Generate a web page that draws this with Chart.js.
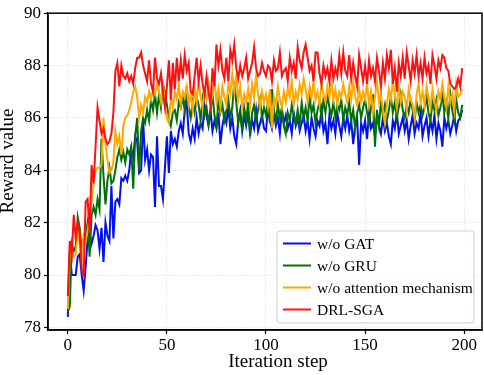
<!DOCTYPE html>
<html>
<head>
<meta charset="utf-8">
<script src="https://cdn.jsdelivr.net/npm/chart.js@4.4.1/dist/chart.umd.min.js"></script>
<style>
  html, body { margin: 0; padding: 0; background: #fff; }
  #wrap { width: 484px; height: 375px; position: relative; }
</style>
</head>
<body>
<div id="wrap"><canvas id="rewardChart"></canvas></div>
<script>
// Iteration steps 0..199
const steps = Array.from({ length: 200 }, (_, i) => i);

const xTicks = [0, 50, 100, 150, 200];
const yTicks = [78, 80, 82, 84, 86, 88, 90];

const seriesNames = ["w/o GAT", "w/o GRU", "w/o attention mechanism", "DRL-SGA"];
const seriesColors = ["#0010f0", "#00700a", "#ffa800", "#ff1010"];

// Valeurs (approximatives)
const woGAT = [
  78.4, 80.9, 80.0, 80.0, 80.0, 80.7, 80.8, 80.0, 79.4, 80.3,
  81.4, 81.6, 81.2, 81.5, 81.9, 81.7, 81.0, 81.8, 80.5, 82.0,
  81.5, 81.3, 83.4, 81.4, 82.8, 82.9, 82.7, 83.7, 83.6, 83.8,
  83.6, 84.0, 84.8, 84.5, 85.3, 85.1, 83.9, 84.0, 85.9, 84.4,
  84.8, 84.0, 84.6, 84.5, 82.6, 85.3, 83.4, 83.4, 82.9, 84.1,
  85.3, 83.9, 85.5, 85.0, 85.2, 84.9, 85.5, 85.8, 85.4, 86.3,
  86.6, 85.4, 85.1, 85.6, 85.2, 86.0, 85.4, 85.8, 85.6, 86.5,
  86.1, 85.7, 86.3, 85.5, 85.9, 85.6, 86.2, 85.0, 85.7, 86.1,
  85.8, 86.4, 85.6, 86.0, 85.3, 85.0, 85.9, 86.3, 85.5, 86.1,
  85.7, 86.2, 85.4, 85.9, 85.6, 86.3, 85.5, 85.8, 86.1, 85.6,
  85.5, 86.4, 85.9, 85.6, 86.2, 85.7, 86.0, 85.4, 86.3, 85.8,
  86.1, 85.6, 85.9, 85.4, 86.2, 85.7, 86.0, 85.5, 85.8, 86.1,
  85.5, 85.9, 85.2, 86.0, 85.6, 85.3, 85.9, 85.7, 86.3, 85.5,
  85.8, 85.0, 86.1, 85.6, 85.9, 85.4, 86.2, 85.7, 85.3, 86.0,
  85.6, 86.1, 85.5, 85.9, 85.0, 85.7, 86.0, 84.2, 85.8, 85.5,
  85.9, 85.2, 86.2, 85.6, 85.8, 85.3, 86.1, 85.7, 85.4, 86.0,
  85.5, 85.8, 85.3, 85.0, 85.9, 85.6, 86.2, 85.4, 85.7, 86.0,
  85.5, 85.9, 85.2, 85.7, 86.1, 85.4, 85.8, 85.6, 86.2, 85.3,
  85.7, 86.0, 85.3, 85.9, 85.5, 86.1, 85.2, 85.8, 85.5, 84.9,
  86.0, 85.6, 85.9, 85.4, 85.7, 86.1, 85.5, 85.9, 86.0, 86.3
];

const woGRU = [
  78.6, 78.8, 81.2, 80.9, 81.1, 82.2, 81.8, 80.9, 81.4, 81.5,
  82.0, 80.7, 82.3, 82.6, 82.3, 82.9, 82.5, 85.2, 83.8, 82.7,
  83.6, 84.1, 83.5, 83.6, 84.0, 84.5, 84.8, 84.4, 84.7, 84.3,
  84.8, 84.6, 84.9, 83.3, 85.3, 86.0, 84.0, 85.5, 86.0, 85.8,
  86.3, 85.9, 86.7, 86.3, 86.9, 86.2, 86.9, 86.4, 87.3, 87.0,
  86.5, 86.0, 85.7, 86.2, 86.3, 85.9, 86.6, 86.4, 86.8, 86.3,
  87.2, 86.4, 86.0, 86.6, 86.2, 86.8, 86.5, 85.9, 86.7, 86.1,
  86.4, 85.8, 86.3, 86.9, 86.1, 85.7, 86.6, 86.2, 86.5, 85.9,
  86.3, 86.7, 86.0, 86.4, 87.4, 86.6, 85.8, 86.2, 85.5, 86.4,
  85.9, 86.6, 85.3, 86.2, 86.5, 85.9, 86.3, 86.7, 86.0, 86.4,
  86.1, 86.6, 85.8, 87.1, 86.3, 85.9, 86.5, 86.0, 86.4, 85.7,
  85.4, 86.2, 85.9, 86.5, 86.1, 85.8, 86.3, 85.7, 86.6, 86.0,
  86.4, 85.9, 86.8, 86.2, 86.5, 85.8, 86.3, 86.6, 86.0, 86.7,
  86.2, 86.9, 86.4, 86.1, 86.6, 86.0, 86.5, 86.3, 86.7, 85.9,
  86.4, 86.1, 86.6, 85.9, 86.3, 85.6, 86.2, 86.5, 86.0, 86.4,
  86.7, 86.2, 85.8, 86.4, 86.9, 84.9, 86.3, 85.7, 86.6, 86.1,
  86.5, 85.9, 86.3, 86.8, 86.2, 86.6, 86.0, 86.4, 86.9, 86.3,
  86.0, 86.5, 86.2, 86.7, 86.3, 85.9, 86.6, 86.2, 86.5, 86.1,
  86.4, 86.8, 86.2, 85.9, 86.6, 86.3, 86.7, 86.1, 86.4, 86.9,
  86.2, 86.6, 86.0, 86.9, 86.3, 85.9, 86.7, 86.2, 86.0, 86.5
];

const woAttention = [
  78.7, 80.8, 81.0, 80.7, 80.8, 81.8, 81.2, 80.6, 81.5, 81.3,
  81.7, 82.2, 82.8, 83.5, 84.0, 84.1, 84.1, 84.2, 86.0, 85.0,
  84.4, 83.9, 84.0, 84.3, 85.5, 85.0, 85.3, 84.6, 85.7, 86.0,
  86.1, 86.3, 86.6, 87.0, 87.2, 86.8, 86.0, 86.5, 86.2, 86.8,
  86.6, 87.0, 86.7, 87.1, 86.9, 87.3, 87.0, 86.6, 87.4, 86.5,
  86.0, 85.8, 86.8, 86.4, 87.0, 86.7, 87.3, 86.5, 87.0, 86.8,
  87.2, 86.5, 86.9, 86.3, 87.1, 86.6, 87.4, 86.8, 86.4, 87.0,
  86.7, 87.3, 86.5, 86.9, 87.5, 86.6, 87.1, 86.4, 87.2, 86.8,
  86.5, 87.3, 86.9, 87.7, 87.0, 87.6, 86.7, 87.2, 86.4, 86.9,
  86.6, 87.1, 86.5, 87.3, 86.8, 87.6, 86.9, 86.4, 87.0, 86.6,
  86.9, 86.4, 87.1, 85.6, 86.8, 86.5, 87.2, 86.7, 86.4, 87.0,
  86.6, 87.1, 86.8, 87.4, 86.5, 87.0, 86.7, 87.3, 86.9, 87.5,
  87.1, 86.6, 87.2, 86.8, 87.4, 86.7, 87.0, 86.5, 87.3, 86.9,
  86.6, 87.2, 86.8, 87.4, 86.7, 87.1, 86.5, 87.0, 86.8, 87.3,
  86.9, 86.6, 87.2, 86.7, 87.4, 86.8, 86.5, 87.1, 86.6, 87.0,
  86.7, 87.3, 86.5, 87.0, 86.2, 86.8, 87.4, 86.6, 86.9, 86.3,
  85.8, 86.5, 87.1, 86.7, 87.4, 86.9, 86.4, 87.2, 86.6, 87.0,
  86.8, 86.3, 87.1, 86.7, 86.5, 86.0, 86.9, 87.3, 86.6, 87.0,
  86.5, 87.2, 86.8, 86.4, 87.1, 86.6, 86.3, 87.0, 86.7, 87.3,
  86.8, 86.4, 87.2, 86.6, 86.9, 86.3, 87.3, 86.8, 86.9, 87.1
];

const drlSGA = [
  79.2, 81.3, 80.8, 82.3, 81.4, 82.0, 81.6, 80.2, 80.0, 82.8,
  82.9, 81.6, 84.2, 83.5, 84.9, 86.4, 85.9, 85.4, 85.6, 85.2,
  85.0, 85.1, 85.4, 86.2, 87.8, 88.1, 87.2, 88.0, 87.6, 87.5,
  87.7, 87.4, 87.6, 87.3, 87.9, 88.3, 88.3, 88.5, 88.0, 87.7,
  87.4, 88.2, 87.3, 87.0, 88.3, 87.5, 87.3, 87.7, 87.0, 86.4,
  87.2, 88.2, 86.7, 88.1, 87.1, 88.3, 87.4, 88.2, 87.5, 88.4,
  87.8, 88.1, 87.0, 86.9, 87.6, 88.3, 87.4, 88.0, 87.3, 86.9,
  87.6, 87.0, 86.5, 87.9, 87.2, 88.8, 88.0, 88.6, 87.8, 87.5,
  88.3, 87.4, 88.6, 88.2, 88.8, 87.9, 87.5, 88.0, 87.6, 87.9,
  88.3, 87.5, 87.8, 88.1, 88.7, 87.9, 87.6, 87.7, 88.1, 87.8,
  87.6, 88.0, 87.9, 87.4, 88.2, 87.8, 87.9, 88.5, 87.6, 87.8,
  87.9, 87.4, 88.3, 87.8, 88.1, 87.5, 88.7, 88.2, 87.9, 88.5,
  88.8, 88.3, 87.8, 88.0, 87.4, 88.5, 88.5, 87.7, 87.3, 88.0,
  87.6, 87.9, 87.4, 88.2, 87.5, 87.9, 87.6, 88.4, 87.7, 88.5,
  87.8, 87.6, 88.4, 87.5, 88.1, 87.6, 87.2, 88.4, 87.9, 87.4,
  88.0, 87.3, 88.2, 87.6, 87.9, 87.4, 88.3, 87.8, 87.2, 88.1,
  87.5, 88.4, 87.9, 88.6, 87.3, 87.9, 87.0, 88.1, 87.6, 88.3,
  87.5, 88.5, 88.0, 87.4, 88.2, 87.7, 88.4, 87.6, 88.1, 87.5,
  88.3, 87.7, 88.0, 87.3, 88.4, 88.0, 87.5, 88.2, 87.9, 88.4,
  88.3, 87.9, 87.8, 87.3, 87.2, 87.1, 87.2, 87.5, 87.2, 87.9
];

const allSeries = [woGAT, woGRU, woAttention, drlSGA];

const FONT = '"Liberation Serif", "Times New Roman", serif';

// Cadre, titres d'axes et légende dessinés à la main
const framePlugin = {
  id: 'framePlugin',
  afterDraw(chart) {
    const { ctx, chartArea: a } = chart;
    ctx.save();
    ctx.strokeStyle = '#000';
    ctx.lineWidth = 1.5;
    ctx.strokeRect(a.left, a.top, a.right - a.left, a.bottom - a.top);

    ctx.fillStyle = '#000';
    ctx.font = '19px ' + FONT;
    ctx.textAlign = 'center';
    ctx.textBaseline = 'middle';
    ctx.fillText('Iteration step', 278, 362);
    ctx.save();
    ctx.translate(8, 161);
    ctx.rotate(-Math.PI / 2);
    ctx.fillText('Reward value', 0, 0);
    ctx.restore();

    // Légende
    const bx = 277, by = 231, bw = 197, bh = 92;
    ctx.beginPath();
    ctx.roundRect(bx, by, bw, bh, 3);
    ctx.fillStyle = 'rgba(255,255,255,0.85)';
    ctx.fill();
    ctx.strokeStyle = '#cfcfcf';
    ctx.lineWidth = 1;
    ctx.stroke();

    ctx.font = '15.5px ' + FONT;
    ctx.textAlign = 'left';
    chart.data.datasets.forEach((ds, i) => {
      const y = by + 12.5 + i * 22;
      ctx.strokeStyle = ds.borderColor;
      ctx.lineWidth = 2;
      ctx.beginPath();
      ctx.moveTo(bx + 6, y);
      ctx.lineTo(bx + 34, y);
      ctx.stroke();
      ctx.fillStyle = '#000';
      ctx.fillText(ds.label, bx + 40, y + 1);
    });
    ctx.restore();
  }
};

new Chart(document.getElementById('rewardChart'), {
  type: 'line',
  data: {
    datasets: allSeries.map((vals, i) => ({
      label: seriesNames[i],
      data: vals.map((v, k) => ({ x: steps[k], y: v })),
      borderColor: seriesColors[i],
      backgroundColor: seriesColors[i],
      borderWidth: 2,
      pointRadius: 0,
      tension: 0,
      fill: false,
      order: allSeries.length - 1 - i
    }))
  },
  options: {
    responsive: true,
    maintainAspectRatio: false,
    animation: false,
    layout: { padding: { top: 7, right: 2, left: 0, bottom: 0 } },
    plugins: {
      legend: { display: false },
      tooltip: { enabled: false }
    },
    scales: {
      x: {
        type: 'linear',
        min: -10,
        max: 209,
        afterBuildTicks: (s) => { s.ticks = xTicks.map(v => ({ value: v })); },
        afterFit: (s) => { s.height = 45; },
        grid: {
          color: '#d2d2d2',
          lineWidth: 0.8,
          tickColor: '#000',
          tickLength: 4,
          tickWidth: 1.2,
          tickBorderDash: []
        },
        border: { display: true, color: '#000', width: 1.5, dash: [1, 2] },
        ticks: {
          color: '#000',
          padding: 1,
          maxRotation: 0,
          font: { family: FONT, size: 17 }
        }
      },
      y: {
        min: 77.9,
        max: 90,
        afterBuildTicks: (s) => { s.ticks = yTicks.map(v => ({ value: v })); },
        afterFit: (s) => { s.width = 48; },
        grid: {
          color: '#d2d2d2',
          lineWidth: 0.8,
          tickColor: '#000',
          tickLength: 4,
          tickWidth: 1.2,
          tickBorderDash: []
        },
        border: { display: true, color: '#000', width: 1.5, dash: [1, 2] },
        ticks: {
          color: '#000',
          padding: 3,
          font: { family: FONT, size: 17 }
        }
      }
    }
  },
  plugins: [framePlugin]
});
</script>
</body>
</html>
